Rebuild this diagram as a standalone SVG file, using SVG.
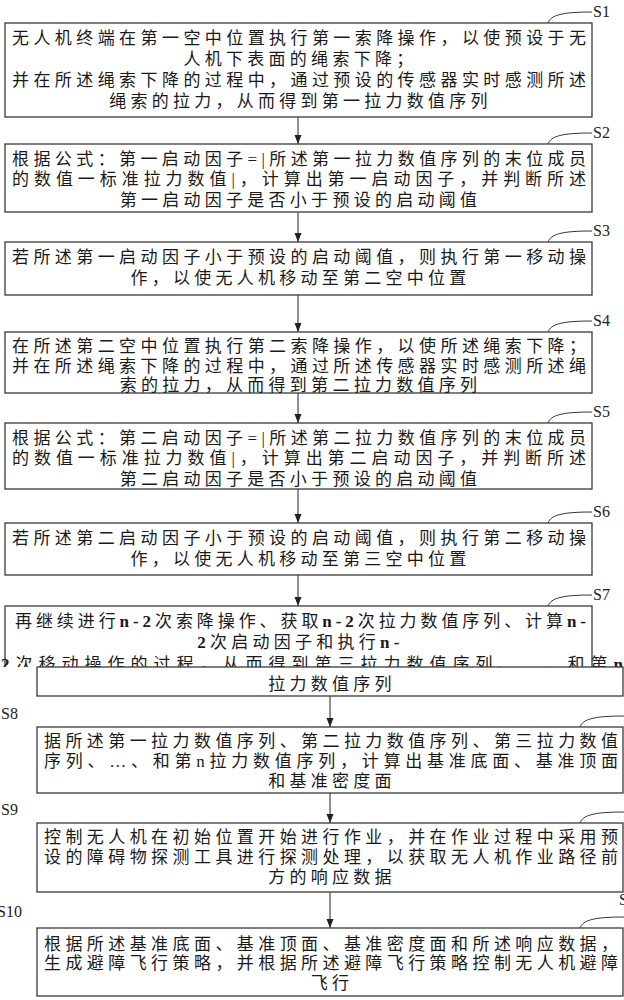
<svg xmlns="http://www.w3.org/2000/svg" width="624" height="1000" viewBox="0 0 624 1000">
<style>
.box{fill:#fff;stroke:#3a3a3a;stroke-width:1.3}
.t{font-family:'Liberation Serif','Noto Sans CJK SC',sans-serif;font-size:17px;fill:#1a1a1a}
.c{text-anchor:middle;letter-spacing:4.26px}
.b{font-weight:bold}
.lbl{font-family:'Liberation Serif',serif;font-size:16px;fill:#222}
.lead{fill:none;stroke:#333;stroke-width:1}
.conn{stroke:#333;stroke-width:1.1;fill:none;marker-end:url(#ah)}
</style>
<defs>
<marker id="ah" markerUnits="userSpaceOnUse" markerWidth="9" markerHeight="8" refX="9" refY="3.5" orient="auto">
<path d="M0,0 L9,3.5 L0,7 z" fill="#222"/>
</marker>
<clipPath id="cut"><rect x="0" y="0" width="624" height="667"/></clipPath>
</defs>
<rect x="0" y="0" width="624" height="1000" fill="#fff"/>

<g id="connectors">
<line class="conn" x1="298" y1="117" x2="298" y2="144"/>
<line class="conn" x1="298" y1="212" x2="298" y2="242"/>
<line class="conn" x1="298" y1="295" x2="298" y2="332"/>
<line class="conn" x1="298" y1="393" x2="298" y2="423"/>
<line class="conn" x1="298" y1="489" x2="298" y2="523"/>
<line class="conn" x1="298" y1="575" x2="298" y2="606"/>
<line class="conn" x1="330" y1="696" x2="330" y2="727"/>
<line class="conn" x1="330" y1="793" x2="330" y2="823"/>
<line class="conn" x1="330" y1="892" x2="330" y2="928"/>
</g>

<g id="s1">
<rect class="box" x="5" y="23" width="587" height="94"/>
<text class="t" x="12" y="43.5" textLength="574" lengthAdjust="spacing">无人机终端在第一空中位置执行第一索降操作，以使预设于无</text>
<text class="t c" x="300.5" y="64.5">人机下表面的绳索下降；</text>
<text class="t" x="12" y="85.5" textLength="574" lengthAdjust="spacing">并在所述绳索下降的过程中，通过预设的传感器实时感测所述</text>
<text class="t c" x="300.5" y="106.5">绳索的拉力，从而得到第一拉力数值序列</text>
<path class="lead" d="M548,23 C551,15 562,12 592,12"/>
<text class="lbl" x="593" y="17">S1</text>
</g>

<g id="s2">
<rect class="box" x="5" y="144" width="587" height="68"/>
<text class="t" x="12" y="164.5" textLength="574" lengthAdjust="spacing">根据公式：第一启动因子=|所述第一拉力数值序列的末位成员</text>
<text class="t" x="12" y="185" textLength="574" lengthAdjust="spacing">的数值一标准拉力数值|，计算出第一启动因子，并判断所述</text>
<text class="t c" x="300.5" y="205.5">第一启动因子是否小于预设的启动阈值</text>
<path class="lead" d="M548,144 C551,136 562,133 592,133"/>
<text class="lbl" x="593" y="138">S2</text>
</g>

<g id="s3">
<rect class="box" x="5" y="242" width="587" height="53"/>
<text class="t" x="12" y="263" textLength="574" lengthAdjust="spacing">若所述第一启动因子小于预设的启动阈值，则执行第一移动操</text>
<text class="t c" x="300.5" y="283.5">作，以使无人机移动至第二空中位置</text>
<path class="lead" d="M548,242 C551,234 562,231 592,231"/>
<text class="lbl" x="593" y="236">S3</text>
</g>

<g id="s4">
<rect class="box" x="5" y="332" width="587" height="61"/>
<text class="t" x="12" y="351.5" textLength="574" lengthAdjust="spacing">在所述第二空中位置执行第二索降操作，以使所述绳索下降；</text>
<text class="t" x="12" y="371.5" textLength="574" lengthAdjust="spacing">并在所述绳索下降的过程中，通过所述传感器实时感测所述绳</text>
<text class="t c" x="300.5" y="391.5" dy="-0.5">索的拉力，从而得到第二拉力数值序列</text>
<path class="lead" d="M548,332 C551,324 562,321 592,321"/>
<text class="lbl" x="593" y="326">S4</text>
</g>

<g id="s5">
<rect class="box" x="5" y="423" width="587" height="66"/>
<text class="t" x="12" y="443.5" textLength="574" lengthAdjust="spacing">根据公式：第二启动因子=|所述第二拉力数值序列的末位成员</text>
<text class="t" x="12" y="464" textLength="574" lengthAdjust="spacing">的数值一标准拉力数值|，计算出第二启动因子，并判断所述</text>
<text class="t c" x="300.5" y="484.5">第二启动因子是否小于预设的启动阈值</text>
<path class="lead" d="M548,423 C551,415 562,412 592,412"/>
<text class="lbl" x="593" y="417">S5</text>
</g>

<g id="s6">
<rect class="box" x="5" y="523" width="587" height="52"/>
<text class="t" x="12" y="544" textLength="574" lengthAdjust="spacing">若所述第二启动因子小于预设的启动阈值，则执行第二移动操</text>
<text class="t c" x="300.5" y="564.5">作，以使无人机移动至第三空中位置</text>
<path class="lead" d="M548,523 C551,515 562,512 592,512"/>
<text class="lbl" x="593" y="517">S6</text>
</g>

<g id="s7">
<g clip-path="url(#cut)">
<rect class="box" x="5" y="606" width="587" height="80"/>
<text class="t" x="15" y="626.5" textLength="571" lengthAdjust="spacing">再继续进行<tspan class="b">n-2</tspan>次索降操作、获取<tspan class="b">n-2</tspan>次拉力数值序列、计算<tspan class="b">n-</tspan></text>
<text class="t c" x="300.5" y="647.5"><tspan class="b">2</tspan>次启动因子和执行<tspan class="b">n-</tspan></text>
<text class="t" x="1" y="670" textLength="622" lengthAdjust="spacing"><tspan class="b">2</tspan>次移动操作的过程，从而得到第三拉力数值序列、…、和第<tspan class="b">n</tspan></text>
</g>
<rect class="box" x="37" y="667" width="586" height="29"/>
<text class="t c" x="332" y="689.5">拉力数值序列</text>
<path class="lead" d="M548,606 C551,598 562,595 592,595"/>
<text class="lbl" x="593" y="600">S7</text>
</g>

<g id="s8">
<rect class="box" x="37" y="727" width="586" height="66"/>
<text class="t" x="44" y="746.5" textLength="574" lengthAdjust="spacing">据所述第一拉力数值序列、第二拉力数值序列、第三拉力数值</text>
<text class="t" x="44" y="766.5" textLength="574" lengthAdjust="spacing">序列、…、和第n拉力数值序列，计算出基准底面、基准顶面</text>
<text class="t c" x="332" y="786.5">和基准密度面</text>
<path class="lead" d="M580,727 C583,719 594,716 624,716"/>
<text class="lbl" x="1" y="719">S8</text>
</g>

<g id="s9">
<rect class="box" x="37" y="823" width="586" height="69"/>
<text class="t" x="44" y="842.5" textLength="574" lengthAdjust="spacing">控制无人机在初始位置开始进行作业，并在作业过程中采用预</text>
<text class="t" x="44" y="862.5" textLength="574" lengthAdjust="spacing">设的障碍物探测工具进行探测处理，以获取无人机作业路径前</text>
<text class="t c" x="332" y="882.5">方的响应数据</text>
<path class="lead" d="M580,823 C583,815 594,812 624,812"/>
<text class="lbl" x="1" y="815">S9</text>
</g>

<g id="s10">
<rect class="box" x="37" y="928" width="586" height="68"/>
<text class="t" x="44" y="949.5" textLength="574" lengthAdjust="spacing">根据所述基准底面、基准顶面、基准密度面和所述响应数据，</text>
<text class="t" x="44" y="969" textLength="574" lengthAdjust="spacing">生成避障飞行策略，并根据所述避障飞行策略控制无人机避障</text>
<text class="t c" x="332" y="988.5">飞行</text>
<path class="lead" d="M580,928 C583,920 594,917 624,917"/>
<text class="lbl" x="-3" y="917">S10</text>
<text class="lbl" x="619" y="905">S</text>
</g>
</svg>
